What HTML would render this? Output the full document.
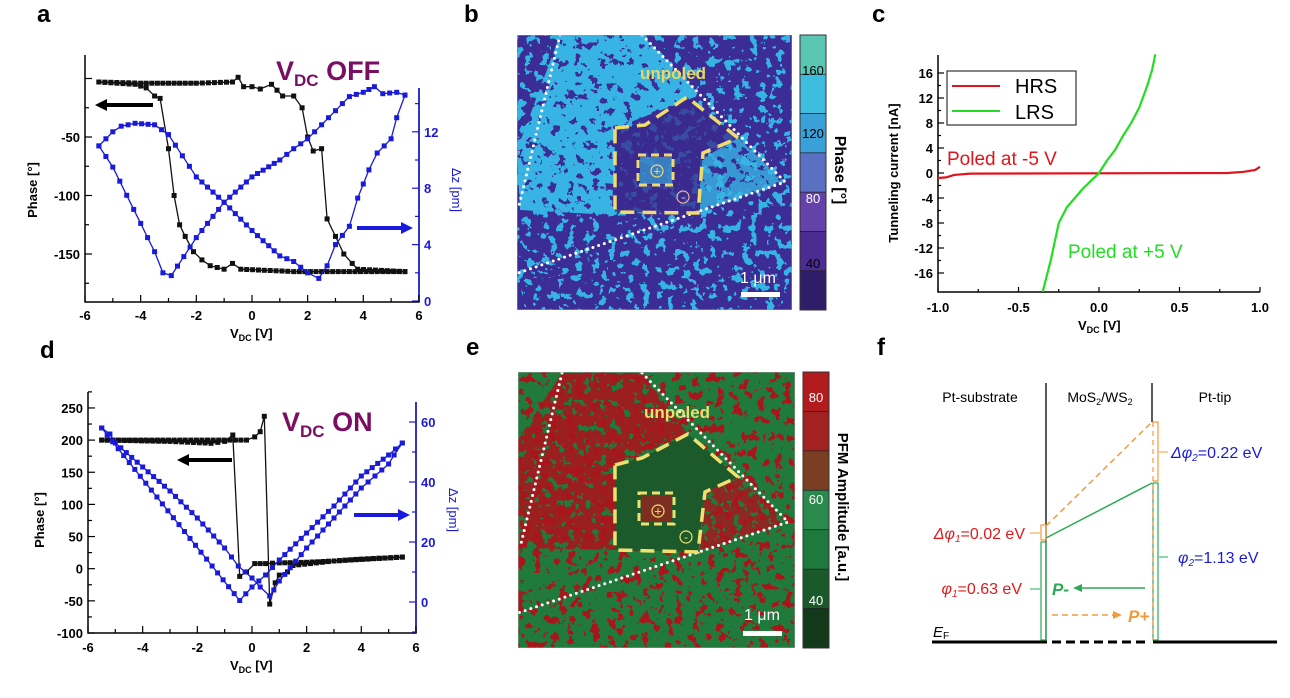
<!DOCTYPE html>
<html><head><meta charset="utf-8"><style>
body{margin:0;background:#fff}
svg{display:block}
text{font-family:"Liberation Sans",Arial,sans-serif}
.tk{font-size:13px;font-weight:bold}
</style></head><body>
<svg id="s" width="1290" height="698" viewBox="0 0 1290 698" xmlns="http://www.w3.org/2000/svg">
<defs>
<filter id="n1" x="0" y="0" width="1" height="1"><feTurbulence type="fractalNoise" baseFrequency="0.12" numOctaves="3" seed="3"/><feColorMatrix type="matrix" values="0 0 0 0 0 0 0 0 0 0 0 0 0 0 0 1 0 0 0 0"/><feComponentTransfer><feFuncA type="discrete" tableValues="0 0 0 1 1"/></feComponentTransfer><feComposite operator="in" in="SourceGraphic"/></filter>
<filter id="n2" x="0" y="0" width="1" height="1"><feTurbulence type="fractalNoise" baseFrequency="0.12" numOctaves="3" seed="7"/><feColorMatrix type="matrix" values="0 0 0 0 0 0 0 0 0 0 0 0 0 0 0 1 0 0 0 0"/><feComponentTransfer><feFuncA type="discrete" tableValues="0 0 1 1 1"/></feComponentTransfer><feComposite operator="in" in="SourceGraphic"/></filter>
<clipPath id="cb"><rect x="517" y="35" width="275" height="275"/></clipPath>
<clipPath id="ce"><rect x="518" y="372" width="277" height="276"/></clipPath>
</defs>
</svg>
<script>
var S=document.getElementById('s');var o='';
function T(x,y,t,a){o+='<text x="'+x+'" y="'+y+'" '+(a||'')+'>'+t+'</text>';}
function L(x1,y1,x2,y2,st){o+='<line x1="'+x1+'" y1="'+y1+'" x2="'+x2+'" y2="'+y2+'" '+st+'/>';}
function dens(p,st){var r=[];for(var i=0;i<p.length;i++){r.push(p[i]);if(i<p.length-1){var dx=p[i+1][0]-p[i][0];var n=Math.floor(Math.abs(dx)/st);for(var k=1;k<n;k++){var t=k/n;r.push([p[i][0]+dx*t,p[i][1]+(p[i+1][1]-p[i][1])*t]);}}}return r;}
function series(p,fx,fy,col,mk,w){var d='';p.forEach(function(q,i){d+=(i?'L':'M')+fx(q[0]).toFixed(1)+' '+fy(q[1]).toFixed(1);});o+='<path d="'+d+'" fill="none" stroke="'+col+'" stroke-width="'+(w||1.3)+'"/>';if(mk)p.forEach(function(q){o+='<rect x="'+(fx(q[0])-2.5).toFixed(1)+'" y="'+(fy(q[1])-2.5).toFixed(1)+'" width="5" height="5" fill="'+col+'"/>';});}
function arrow(x1,x2,y,col){var dir=x2>x1?1:-1;o+='<line x1="'+x1+'" y1="'+y+'" x2="'+(x2-dir*10)+'" y2="'+y+'" stroke="'+col+'" stroke-width="4"/>';o+='<polygon points="'+x2+','+y+' '+(x2-dir*12)+','+(y-6)+' '+(x2-dir*12)+','+(y+6)+'" fill="'+col+'"/>';}
[['a',37,22],['b',464,22],['c',872,22],['d',40,358],['e',466,355],['f',877,355]].forEach(function(l){T(l[1],l[2],l[0],'font-size="24" font-weight="bold"');});
// ===== Panel a
(function(){var X=function(v){return 85+(v+6)*27.83},Y=function(p){return 78.5-(p)*58.5/50},R=function(z){return 301-z*14.1};
o+='<path d="M85 55V302H419V88" fill="none" stroke="#000" stroke-width="1.5"/>';L(419,88,419,302,'stroke="#1a1adc" stroke-width="1.5"');
for(var v=-6;v<=6;v+=1){L(X(v),302,X(v),v%2?298:295,'stroke="#000" stroke-width="1.2"');if(v%2==0)T(X(v),320,v,'class="tk" text-anchor="middle"');}
for(var p=0;p>=-175;p-=25){L(85,Y(p),p%50?89:92,Y(p),'stroke="#000" stroke-width="1.2"');if(p%50==0&&p<0)T(80,Y(p)+5,p,'class="tk" text-anchor="end"');}
for(var z=0;z<=14;z+=2){L(419,R(z),z%4?415:412,R(z),'stroke="#1a1adc" stroke-width="1.2"');if(z%4==0)T(424,R(z)+5,z,'class="tk" fill="#1a1adc"');}
T(0,0,'Phase [°]','class="tk" transform="translate(37,190) rotate(-90)" text-anchor="middle"');
T(230,338,'V<tspan font-size="9" dy="3">DC</tspan><tspan dy="-3"> [V]</tspan>','class="tk"');
T(0,0,'Δz [pm]','font-size="13" fill="#1a1adc" transform="translate(452,190) rotate(90)" text-anchor="middle"');
var b1=dens([[-5.5,-3],[-4,-4],[-2,-4],[-0.7,-3],[-0.5,1],[-0.3,-7],[0,-7],[0.3,-9],[0.7,-5],[1.1,-15],[1.5,-15],[1.8,-25],[2.0,-50],[2.2,-62],[2.5,-60],[2.7,-120],[3,-135],[3.3,-150],[3.6,-158],[3.8,-163],[5.5,-165]],0.2);
var b2=dens([[-5.5,-3],[-4.2,-5],[-3.8,-8],[-3.5,-15],[-3.3,-17],[-3.0,-60],[-2.8,-100],[-2.6,-125],[-2.4,-135],[-2.1,-148],[-1.8,-155],[-1.5,-160],[-1,-163],[-0.7,-158],[-0.4,-163],[1.5,-165],[5.5,-165]],0.2);
var z1=dens([[-5.5,11],[-5,9.5],[-4.5,7.5],[-4,5.5],[-3.5,3.5],[-3.2,2.0],[-2.9,1.8],[-2,4.5],[-1,7],[0,8.8],[1,10],[1.5,10.8],[2,11.5],[2.5,12.5],[3,13.5],[3.5,14.5],[4,14.8],[4.4,15.2],[4.7,14.7],[5.2,14.8],[5.5,14.6]],0.2);
var z2=dens([[-5.5,11],[-5,12],[-4.7,12.4],[-4.2,12.6],[-3.5,12.5],[-3,11.8],[-2.5,10.3],[-2,8.8],[-1,7],[0,5],[1,3.2],[1.5,2.8],[2,2.0],[2.4,1.6],[2.7,2.5],[3,4.0],[3.5,5.3],[3.8,7.3],[4.2,9.3],[4.5,10.5],[5,11.5],[5.2,13],[5.5,14.6]],0.2);
series(b1,X,Y,'#111',1);series(b2,X,Y,'#111',1);series(z1,X,R,'#1a1adc',1);series(z2,X,R,'#1a1adc',1);
arrow(153,95,105,'#000');arrow(357,413,228,'#1a1adc');
T(276,80,'V<tspan font-size="17" dy="6">DC</tspan><tspan dy="-6"> OFF</tspan>','font-size="27" font-weight="bold" fill="#7a0e62"');
})();
// ===== Panel d
(function(){var X=function(v){return 88+(v+6)*27.33},Y=function(p){return 568.7-p*0.643},R=function(z){return 602-z*3};
o+='<path d="M88 392V633H416V402" fill="none" stroke="#000" stroke-width="1.5"/>';L(416,402,416,633,'stroke="#1a1adc" stroke-width="1.5"');
for(var v=-6;v<=6;v+=1){L(X(v),633,X(v),v%2?629:626,'stroke="#000" stroke-width="1.2"');if(v%2==0)T(X(v),652,v,'class="tk" text-anchor="middle"');}
for(var p=-100;p<=275;p+=25){L(88,Y(p),p%50?92:95,Y(p),'stroke="#000" stroke-width="1.2"');if(p%50==0&&p<=250)T(83,Y(p)+5,p,'class="tk" text-anchor="end"');}
for(var z=-10;z<=60;z+=10){L(416,R(z),z%20?412:409,R(z),'stroke="#1a1adc" stroke-width="1.2"');if(z%20==0&&z>=0)T(421,R(z)+5,z,'class="tk" fill="#1a1adc"');}
T(0,0,'Phase [°]','class="tk" transform="translate(44,520) rotate(-90)" text-anchor="middle"');
T(230,670,'V<tspan font-size="9" dy="3">DC</tspan><tspan dy="-3"> [V]</tspan>','class="tk"');
T(0,0,'Δz [pm]','font-size="13" fill="#1a1adc" transform="translate(449,510) rotate(90)" text-anchor="middle"');
var b1=dens([[-5.5,200],[-3,198],[-1.5,195],[-1,198],[-0.7,208],[-0.45,-12],[-0.2,-5],[0.1,8],[0.5,8],[1,9],[2,10],[3,12],[4,15],[5.5,18]],0.2);
var b2=dens([[5.5,18],[3,12],[1.5,5],[1.3,-5],[1.0,-10],[0.85,-22],[0.65,-55],[0.45,237],[0.3,213],[0.1,205],[-0.2,200],[-5.5,200]],0.2);
var z1=dens([[-5.5,58],[-0.45,0.5],[0,5],[0.5,9],[1,14],[2,23],[3,32],[4,42],[5,49],[5.5,53]],0.2);
var z2=dens([[-5.5,58],[-5.2,56],[-5,53],[-4,45],[-3,37],[-2,28],[-1,18],[-0.5,12],[0,8],[0.3,5],[0.65,2],[0.8,4],[1,7],[2,18],[3,28],[4,38],[4.5,42],[5,46],[5.2,49],[5.5,53]],0.2);
series(b1,X,Y,'#111',1);series(b2,X,Y,'#111',1);series(z1,X,R,'#1a1adc',1);series(z2,X,R,'#1a1adc',1);
arrow(232,177,460,'#000');arrow(354,410,515,'#1a1adc');
T(282,431,'V<tspan font-size="17" dy="6">DC</tspan><tspan dy="-6"> ON</tspan>','font-size="27" font-weight="bold" fill="#7a0e62"');
})();
// ===== Panel c
(function(){var X=function(v){return 938+(v+1)*161},Y=function(i){return 173-i*6.25};
o+='<path d="M938 55V292H1260" fill="none" stroke="#000" stroke-width="1.5"/>';
for(var v=-1;v<=1.001;v+=0.25){var m=Math.abs(v*2-Math.round(v*2))<0.01;L(X(v),292,X(v),m?287:289,'stroke="#000" stroke-width="1.2"');if(m)T(X(v),312,v.toFixed(1),'class="tk" text-anchor="middle"');}
for(var i=-16;i<=16;i+=2){L(938,Y(i),i%4?941:944,Y(i),'stroke="#000" stroke-width="1.2"');if(i%4==0)T(933,Y(i)+5,i,'class="tk" text-anchor="end"');}
T(0,0,'Tunneling current [nA]','class="tk" transform="translate(898,173) rotate(-90)" text-anchor="middle"');
T(1078,330,'V<tspan font-size="9" dy="3">DC</tspan><tspan dy="-3"> [V]</tspan>','class="tk"');
series([[-1,-0.8],[-0.95,-0.7],[-0.9,-0.3],[-0.8,-0.1],[0.8,0],[0.9,0.2],[0.97,0.5],[1,1]],X,Y,'#e0141c',0,2.2);
series([[-0.35,-19],[-0.3,-14],[-0.25,-8],[-0.2,-5.5],[-0.1,-2.5],[0,0],[0.05,2],[0.1,3.7],[0.15,6],[0.2,8],[0.25,10.5],[0.3,14],[0.33,16.5],[0.35,19]],X,Y,'#22dd22',0,2.2);
o+='<rect x="947" y="71" width="129" height="54" fill="#fff" stroke="#333" stroke-width="1.2"/>';
L(952,86,1000,86,'stroke="#e0141c" stroke-width="2"');L(952,111,1000,111,'stroke="#22dd22" stroke-width="2"');
T(1015,93,'HRS','font-size="20"');T(1015,119,'LRS','font-size="20"');
T(947,165,'Poled at -5 V','font-size="19" fill="#e0141c"');T(1068,258,'Poled at +5 V','font-size="19" fill="#22dd22"');
})();
// ===== Panel b
(function(){
o+='<g clip-path="url(#cb)"><rect x="517" y="35" width="275" height="275" fill="#3c2c96"/>';
o+='<rect x="517" y="35" width="275" height="275" fill="#36b4e4" filter="url(#n1)"/>';
o+='<polygon points="560,35 642,35 700,95 615,128 612,215 520,210 517,150" fill="#38b4e4" filter="url(#n2)"/>';
o+='<polygon points="700,160 738,138 785,182 700,212" fill="#38b4e4" filter="url(#n2)" opacity="0.8"/>';
o+='<polygon points="615,128 645,125 687,97 738,138 703,153 698,213 615,212" fill="#3a2a8c" opacity="0.75"/>';
o+='<rect x="640" y="157" width="32" height="27" fill="#38b4e4" opacity="0.6"/>';
o+='<polyline points="560,35 518,210" fill="none" stroke="#fff" stroke-width="3" stroke-dasharray="0 6" stroke-linecap="round"/>';
o+='<polyline points="642,35 785,182 518,273" fill="none" stroke="#fff" stroke-width="3" stroke-dasharray="0 6" stroke-linecap="round"/>';
o+='<polygon points="615,128 645,125 687,97 738,138 703,153 698,213 615,212" fill="none" stroke="#f0dc6a" stroke-width="3.5" stroke-dasharray="14 8"/>';
o+='<rect x="638" y="155" width="35" height="30" fill="none" stroke="#f0dc6a" stroke-width="3" stroke-dasharray="8 5"/>';
o+='<circle cx="657" cy="171" r="6" fill="none" stroke="#f0dc6a" stroke-width="1.2"/>';T(657,175.5,'+','font-size="13" fill="#f0dc6a" text-anchor="middle"');
o+='<circle cx="683" cy="197" r="6" fill="none" stroke="#f0b0a0" stroke-width="1.2"/>';T(683,201,'-','font-size="12" fill="#f0b0a0" text-anchor="middle"');
T(673,79,'unpoled','font-size="17" font-weight="bold" fill="#e8d860" text-anchor="middle"');
T(758,283,'1 μm','font-size="16" fill="#fff" text-anchor="middle"');o+='<rect x="741" y="292" width="39" height="5" fill="#fff"/>';
o+='<rect x="517" y="35" width="275" height="275" fill="none" stroke="#999" stroke-width="1"/></g>';
var cs=['#5cc6b4','#3ebde0','#3aa0d8','#5a70c2','#6442aa','#4a2c92','#2e1e6a'];var h=275/7;
cs.forEach(function(c,i){o+='<rect x="800" y="'+(35+i*h)+'" width="26" height="'+(h+0.5)+'" fill="'+c+'"/>';});
o+='<rect x="800" y="35" width="26" height="275" fill="none" stroke="#333" stroke-width="1"/>';
for(var i=1;i<7;i++)L(800,35+i*h,826,35+i*h,'stroke="#222" stroke-width="0.8"');
[[160,75],[120,138],[80,203],[40,268]].forEach(function(q){T(813,q[1],q[0],'font-size="13" text-anchor="middle" fill="'+(q[0]==80?'#fff':'#000')+'"');});
T(0,0,'Phase [°]','font-size="16" font-weight="bold" transform="translate(835,170) rotate(90)" text-anchor="middle"');
})();
// ===== Panel e
(function(){
o+='<g clip-path="url(#ce)"><rect x="518" y="372" width="277" height="276" fill="#1f7a3c"/>';
o+='<rect x="518" y="372" width="277" height="276" fill="#a8191c" filter="url(#n1)"/>';
o+='<polygon points="562,373 642,373 688,434 615,465 615,550 520,548 518,440" fill="#a8191c" filter="url(#n2)" opacity="0.9"/>';
o+='<polygon points="705,492 738,477 788,522 700,550" fill="#a8191c" filter="url(#n2)" opacity="0.8"/>';
o+='<polygon points="615,465 642,458 688,434 738,477 705,492 698,552 615,550" fill="#1c5a2c"/>';
o+='<rect x="641" y="495" width="31" height="27" fill="#a8191c" opacity="0.7"/>';
o+='<polyline points="562,373 520,548" fill="none" stroke="#fff" stroke-width="3" stroke-dasharray="0 6" stroke-linecap="round"/>';
o+='<polyline points="642,373 788,522 518,613" fill="none" stroke="#fff" stroke-width="3" stroke-dasharray="0 6" stroke-linecap="round"/>';
o+='<polygon points="615,465 642,458 688,434 738,477 705,492 698,552 615,550" fill="none" stroke="#f0e070" stroke-width="3.5" stroke-dasharray="14 8"/>';
o+='<rect x="639" y="493" width="35" height="31" fill="none" stroke="#f0e070" stroke-width="3" stroke-dasharray="8 5"/>';
o+='<circle cx="658" cy="511" r="6" fill="none" stroke="#f0e070" stroke-width="1.2"/>';T(658,515.5,'+','font-size="13" fill="#f0e070" text-anchor="middle"');
o+='<circle cx="686" cy="537" r="6" fill="none" stroke="#f0e070" stroke-width="1.2"/>';T(686,541,'-','font-size="12" fill="#f0e070" text-anchor="middle"');
T(677,418,'unpoled','font-size="17" font-weight="bold" fill="#e8e070" text-anchor="middle"');
T(762,620,'1 μm','font-size="16" fill="#fff" text-anchor="middle"');o+='<rect x="743" y="631" width="39" height="5" fill="#fff"/>';
o+='<rect x="518" y="372" width="277" height="276" fill="none" stroke="#999" stroke-width="1"/></g>';
var cs=['#b21c1e','#a22222','#7a3e22','#2a8a4c','#1e7a3c','#1a5a2a','#123a1a'];var h=276/7;
cs.forEach(function(c,i){o+='<rect x="803" y="'+(372+i*h)+'" width="26" height="'+(h+0.5)+'" fill="'+c+'"/>';});
o+='<rect x="803" y="372" width="26" height="276" fill="none" stroke="#333" stroke-width="1"/>';
for(var i=1;i<7;i++)L(803,372+i*h,829,372+i*h,'stroke="#222" stroke-width="0.8"');
[[80,402],[60,504],[40,605]].forEach(function(q){T(816,q[1],q[0],'font-size="13" text-anchor="middle" fill="#fff"');});
T(0,0,'PFM Amplitude [a.u.]','font-size="15" font-weight="bold" transform="translate(838,507) rotate(90)" text-anchor="middle"');
})();
// ===== Panel f
(function(){
T(980,402,'Pt-substrate','font-size="14" text-anchor="middle"');
T(1100,402,'MoS<tspan font-size="9" dy="3">2</tspan><tspan dy="-3">/WS</tspan><tspan font-size="9" dy="3">2</tspan>','font-size="14" text-anchor="middle"');
T(1215,402,'Pt-tip','font-size="14" text-anchor="middle"');
L(1046,383,1046,640,'stroke="#000" stroke-width="1.3"');L(1152,383,1152,422,'stroke="#000" stroke-width="1.3"');
L(932,642,1047,642,'stroke="#000" stroke-width="3"');L(1052,642,1146,642,'stroke="#000" stroke-width="3" stroke-dasharray="9 5"');L(1153,642,1277,642,'stroke="#000" stroke-width="3"');
o+='<rect x="1041" y="542" width="5" height="98" fill="none" stroke="#2aaa55" stroke-width="1.2"/>';
o+='<rect x="1041" y="525" width="5" height="15" fill="none" stroke="#f39a3a" stroke-width="1.2"/>';
L(1046,538,1152,483,'stroke="#2aaa55" stroke-width="1.5"');L(1046,526,1152,422,'stroke="#f39a3a" stroke-width="1.5" stroke-dasharray="6 4"');
o+='<rect x="1153" y="483" width="5" height="157" fill="none" stroke="#2aaa55" stroke-width="1.2"/>';
o+='<path d="M1153 422H1158V481H1153" fill="none" stroke="#f39a3a" stroke-width="1.2"/>';L(1153,422,1153,640,'stroke="#f39a3a" stroke-width="1.2" stroke-dasharray="5 4"');
L(1030,533,1040,533,'stroke="#f39a3a"');L(1030,589,1040,589,'stroke="#2aaa55"');L(1159,452,1168,452,'stroke="#f39a3a"');L(1159,557,1168,557,'stroke="#2aaa55"');
T(1025,539,'<tspan font-style="italic">Δφ<tspan font-size="10" dy="3">1</tspan></tspan><tspan dy="-3">=0.02 eV</tspan>','font-size="16" fill="#e01a1a" text-anchor="end"');
T(1022,594,'<tspan font-style="italic">φ<tspan font-size="10" dy="3">1</tspan></tspan><tspan dy="-3">=0.63 eV</tspan>','font-size="16" fill="#e01a1a" text-anchor="end"');
T(1171,458,'<tspan font-style="italic">Δφ<tspan font-size="10" dy="3">2</tspan></tspan><tspan dy="-3">=0.22 eV</tspan>','font-size="16" fill="#1a1adc"');
T(1178,563,'<tspan font-style="italic">φ<tspan font-size="10" dy="3">2</tspan></tspan><tspan dy="-3">=1.13 eV</tspan>','font-size="16" fill="#1a1adc"');
T(1052,595,'P-','font-size="17" font-weight="bold" font-style="italic" fill="#2aaa55"');
L(1145,588,1080,588,'stroke="#2aaa55" stroke-width="1.5"');o+='<polygon points="1073,588 1082,584 1082,592" fill="#2aaa55"/>';
L(1052,615,1115,615,'stroke="#f39a3a" stroke-width="1.5" stroke-dasharray="6 4"');o+='<polygon points="1122,615 1113,611 1113,619" fill="#f39a3a"/>';
T(1128,622,'P+','font-size="17" font-weight="bold" font-style="italic" fill="#f39a3a"');
T(933,637,'<tspan font-style="italic">E</tspan><tspan font-size="10" dy="2">F</tspan>','font-size="15"');
})();
S.insertAdjacentHTML('beforeend',o);
</script>
</body></html>
